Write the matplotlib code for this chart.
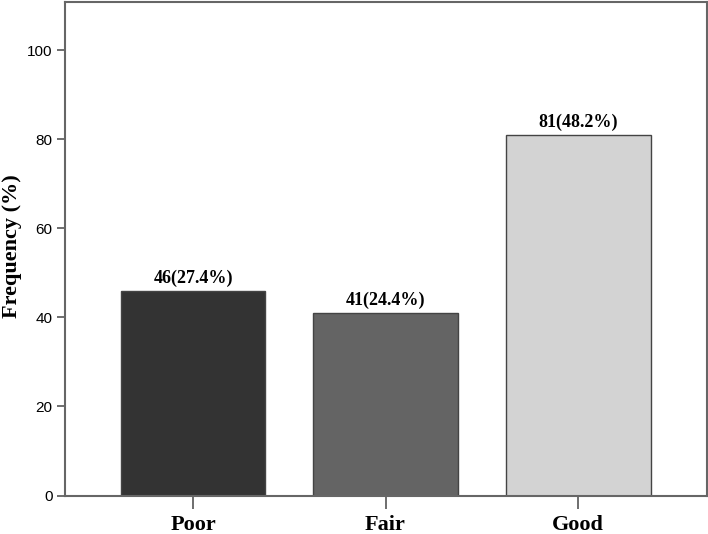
import matplotlib
matplotlib.use("Agg")
import matplotlib.pyplot as plt

categories = ["Poor", "Fair", "Good"]
counts = [46, 41, 81]
labels = ["46(27.4%)", "41(24.4%)", "81(48.2%)"]
colors = ["#333333", "#646464", "#d3d3d3"]

fig = plt.figure(figsize=(7.08, 5.34), dpi=100)
ax = fig.add_axes([65/708, 1 - 495.5/534, 642/708, 494/534])

x = range(len(categories))
bars = ax.bar(x, counts, width=0.753, color=colors, edgecolor="#444444", linewidth=1.0, zorder=2)
for b, lab in zip(bars, labels):
    ax.annotate(lab, (b.get_x() + b.get_width()/2, b.get_height()), xytext=(0, 3),
                textcoords="offset points", ha="center", va="bottom",
                family="Liberation Serif", fontweight="bold", fontsize=13)

ax.set_xlim(-0.665, 2.67)
ax.set_ylim(0, 111)
ax.set_yticks([0, 20, 40, 60, 80, 100])
ax.set_xticks(list(x))
ax.set_xticklabels(categories, family="Liberation Serif", fontweight="bold", fontsize=16)
for t in ax.get_yticklabels():
    t.set_family("Liberation Sans")
    t.set_fontsize(11)
ax.tick_params(axis="y", length=6, width=1.2, color="#555555", pad=3)
ax.tick_params(axis="x", length=9, width=1.2, color="#555555", pad=5)
for s in ax.spines.values():
    s.set_color("#666666")
    s.set_linewidth(1.5)
ax.set_ylabel("Frequency (%)", family="Liberation Serif", fontweight="bold", fontsize=16)
ax.yaxis.set_label_coords(-0.067, 0.505)

fig.savefig("out.png", dpi=100)
